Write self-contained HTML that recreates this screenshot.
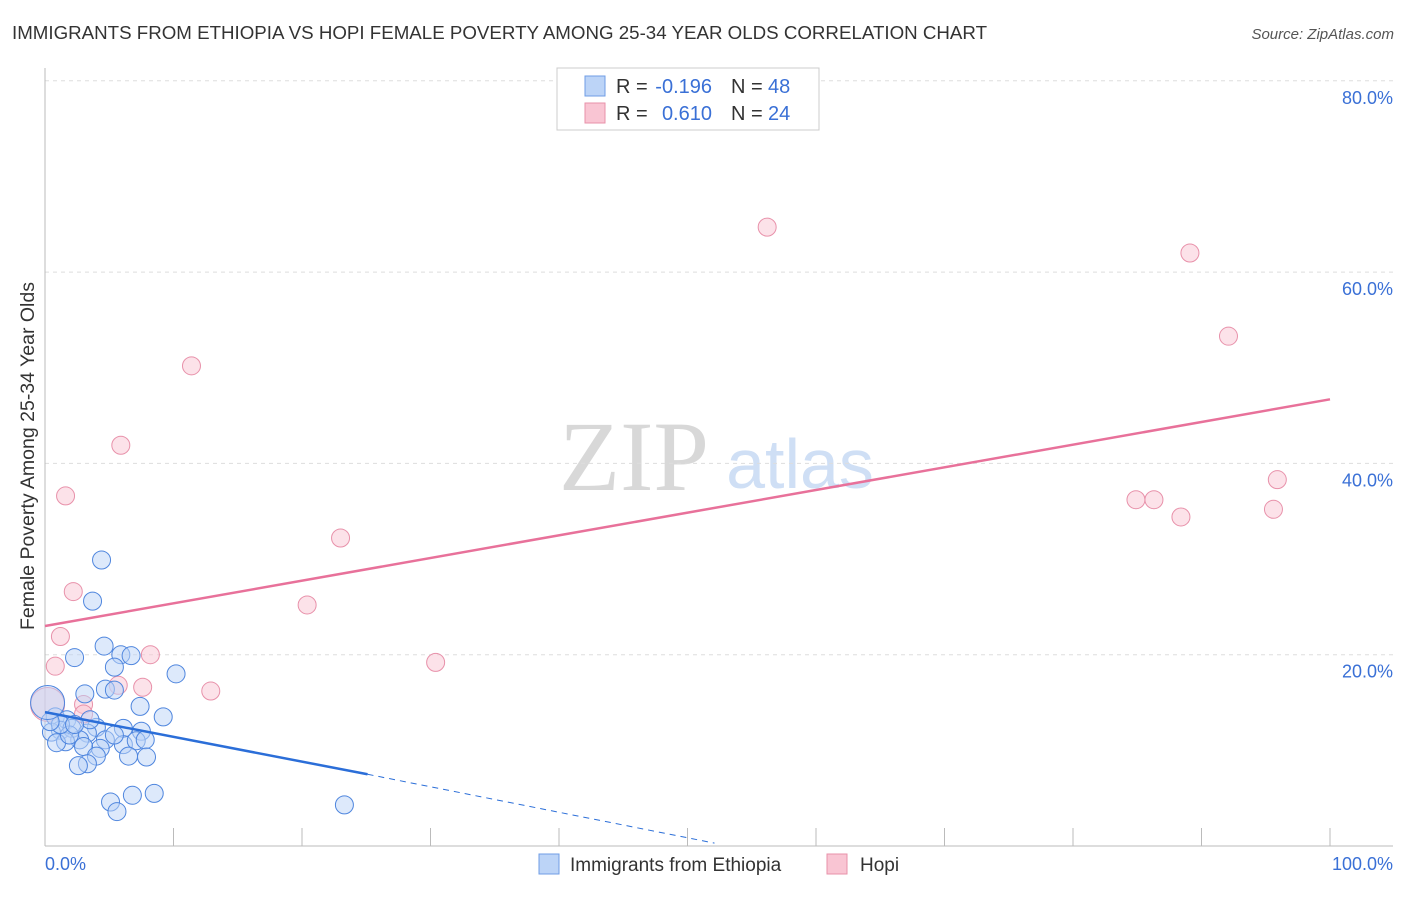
<!DOCTYPE html>
<html><head><meta charset="utf-8"><style>
body{margin:0;background:#fff;font-family:"Liberation Sans",sans-serif}
</style></head><body>
<svg id="c" width="1406" height="892" xmlns="http://www.w3.org/2000/svg" style="font-family:'Liberation Sans',sans-serif">
<text x="12" y="39" font-size="18" fill="#333" textLength="975" lengthAdjust="spacingAndGlyphs">IMMIGRANTS FROM ETHIOPIA VS HOPI FEMALE POVERTY AMONG 25-34 YEAR OLDS CORRELATION CHART</text>
<text x="1394" y="39" font-size="15" fill="#555" text-anchor="end" font-style="italic">Source: ZipAtlas.com</text>
<g>
<text x="634" y="490" font-size="100" fill="#d8d8d8" text-anchor="middle" style="font-family:'Liberation Serif',serif">ZIP</text>
<text x="800" y="488" font-size="70" fill="#cfdff5" text-anchor="middle">atlas</text>
</g>
<text transform="translate(34,456) rotate(-90)" font-size="19" fill="#333" text-anchor="middle" textLength="348" lengthAdjust="spacingAndGlyphs">Female Poverty Among 25-34 Year Olds</text>
<g id="grid"></g><g id="axes"></g><g id="marks"></g>
<g>
<rect x="557" y="68" width="262" height="62" fill="#fff" stroke="#ccc"/>
<rect x="585" y="76" width="20" height="20" fill="#bcd4f7" stroke="#6f9de6"/>
<rect x="585" y="103" width="20" height="20" fill="#f9c5d3" stroke="#e891aa"/>
<text x="616" y="93" font-size="20" fill="#333">R =</text>
<text x="712" y="93" font-size="20" fill="#3a70d6" text-anchor="end">-0.196</text>
<text x="731" y="93" font-size="20" fill="#333">N =</text>
<text x="768" y="93" font-size="20" fill="#3a70d6">48</text>
<text x="616" y="120" font-size="20" fill="#333">R =</text>
<text x="712" y="120" font-size="20" fill="#3a70d6" text-anchor="end">0.610</text>
<text x="731" y="120" font-size="20" fill="#333">N =</text>
<text x="768" y="120" font-size="20" fill="#3a70d6">24</text>
</g>
<g>
<rect x="539" y="854" width="20" height="20" fill="#bcd4f7" stroke="#6f9de6"/>
<text x="570" y="871" font-size="19" fill="#333">Immigrants from Ethiopia</text>
<rect x="827" y="854" width="20" height="20" fill="#f9c5d3" stroke="#e891aa"/>
<text x="860" y="871" font-size="19" fill="#333">Hopi</text>
</g>
</svg>
<script>
const blueX=[4.4,3.7,2.3,4.6,5.9,6.7,5.4,10.2,4.7,5.4,3.1,7.4,9.2,0.8,1.7,6.1,7.5,4.0,1.2,2.1,3.3,0.5,2.7,4.7,6.1,7.1,7.8,4.3,3.0,1.6,0.9,6.5,7.9,4.0,3.3,2.6,5.1,6.8,8.5,5.6,23.3,1.9,3.5,1.2,5.4,2.3,0.4,0.2];
const blueY=[29.9,25.6,19.7,20.9,20.0,19.9,18.7,18.0,16.4,16.3,15.9,14.6,13.5,13.5,13.2,12.3,12.0,12.4,12.1,12.3,11.8,11.9,11.1,11.1,10.6,11.0,11.1,10.2,10.4,10.9,10.8,9.4,9.3,9.4,8.6,8.4,4.6,5.3,5.5,3.6,4.3,11.6,13.2,12.7,11.6,12.7,13.0,15.0];
const pinkX=[56.2,89.1,92.1,11.4,5.9,1.6,84.9,86.3,88.4,95.9,95.6,23.0,2.2,20.4,1.2,8.2,0.8,30.4,12.9,7.6,5.7,3.0,3.0,0.2];
const pinkY=[64.7,62.0,53.3,50.2,41.9,36.6,36.2,36.2,34.4,38.3,35.2,32.2,26.6,25.2,21.9,20.0,18.8,19.2,16.2,16.6,16.8,14.8,13.8,14.8];
const yTicks=[20,40,60,80];
const yTickLabels=["20.0%","40.0%","60.0%","80.0%"];
const xTickLabels=["0.0%","100.0%"];
const pinkTrend=[[0,23.0],[100,46.7]];
const blueTrend=[[0,14.0],[25.1,7.5]];
const blueDash=[[25.1,7.5],[52.1,0.3]];
const NS="http://www.w3.org/2000/svg";
const sx=v=>45+v*12.85, sy=v=>846-v*9.565;
function mk(p,t,a){const e=document.createElementNS(NS,t);for(const k in a)e.setAttribute(k,a[k]);p.appendChild(e);return e;}
const grid=document.getElementById('grid'),axes=document.getElementById('axes'),marks=document.getElementById('marks');
yTicks.forEach((t,i)=>{
 const l=mk(grid,'line',{x1:45,x2:1393,y1:sy(t),y2:sy(t),stroke:'#ddd','stroke-dasharray':'4,4'});
 
 
 const tx=mk(grid,'text',{x:1393,y:sy(t)+23,'font-size':18,fill:'#3a70d6','text-anchor':'end'});
 tx.textContent=yTickLabels[i];
 
 
});
const ax=mk(axes,'line',{x1:45,x2:1393,y1:846,y2:846,stroke:'#bbb'});


const ay=mk(axes,'line',{x1:45,x2:45,y1:68,y2:846,stroke:'#bbb'});


for(let i=0;i<=10;i++){const t=mk(axes,'line',{x1:sx(i*10),x2:sx(i*10),y1:828,y2:846,stroke:'#bbb'});
 
 }
[[0,'start',45],[100,'end',1393]].forEach((d,i)=>{const t=mk(axes,'text',{x:d[2],y:870,'font-size':18,fill:'#3a70d6','text-anchor':d[1]});
 t.textContent=xTickLabels[i];
 
 });
function pts(X,Y,fill,stroke,name){X.forEach((x,i)=>{const r=(i===X.length-1)?17:9;
 const c=mk(marks,'circle',{cx:sx(x),cy:sy(Y[i]),r:r,fill:fill,'fill-opacity':0.5,stroke:stroke,'stroke-width':1});
 
 });}
pts(pinkX,pinkY,'#f9c5d3','#e891aa','hopi-point');
pts(blueX,blueY,'#bcd4f7','#4f86de','ethiopia-point');
function ln(p,st,w,dash,name){const l=mk(marks,'line',{x1:sx(p[0][0]),y1:sy(p[0][1]),x2:sx(p[1][0]),y2:sy(p[1][1]),stroke:st,'stroke-width':w});
 if(dash)l.setAttribute('stroke-dasharray',dash);
 
 }
ln(pinkTrend,'#e8719a',2.5,null,'hopi-trendline');
ln(blueTrend,'#2b6ed8',2.5,null,'ethiopia-trendline');
ln(blueDash,'#2b6ed8',1,'6,5','ethiopia-trendline-extension');
</script>
</body></html>
